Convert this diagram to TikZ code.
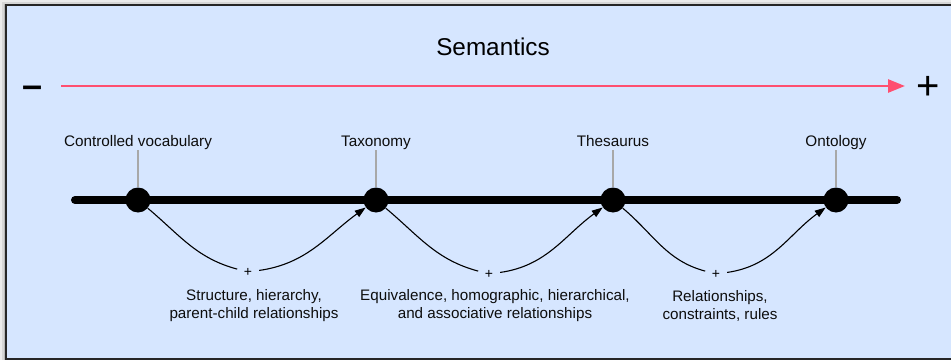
\documentclass[tikz,border=0pt]{standalone}
\usepackage{fontspec}
\setmainfont{Liberation Sans}
\usetikzlibrary{arrows.meta}
\definecolor{bgblue}{HTML}{D6E6FF}
\definecolor{redarrow}{HTML}{FF4F70}
\definecolor{tickgray}{HTML}{A8A8A8}
\begin{document}
\begin{tikzpicture}[x=1pt,y=1pt,
  lbl/.style={font=\fontsize{15.3}{17}\selectfont, text=black!95, inner sep=0pt, anchor=base},
  desc/.style={font=\fontsize{15.2}{18}\selectfont, align=center, text=black!95, inner sep=0pt},
  dot/.style={circle, fill=black, minimum size=25pt, inner sep=0pt},
  pl/.style={circle, minimum size=22pt, inner sep=0pt, font=\fontsize{14}{15}\selectfont},
  tick/.style={draw=tickgray, line width=1.6pt},
  curve/.style={draw=black, line width=1.1pt},
  arr/.style={curve, -{Triangle[length=11pt,width=7.5pt]}}]
\useasboundingbox (0,0) rectangle (951,360);
% shadow
\fill[black!8] (0,0) rectangle (951,360);
\fill[black!16] (2,0) rectangle (951,358);
\fill[black!28] (4,0) rectangle (951,356.5);
% frame
\fill[bgblue] (6,1) rectangle (960,355);
\draw[black!85, line width=1.5pt] (6,1) rectangle (960,355);
% title
\node[font=\fontsize{24.3}{27}\selectfont, inner sep=0pt] (title) at (493,313) {Semantics};
% semantic axis
\node[font=\bfseries\fontsize{36}{38}\selectfont, inner sep=0pt] (minus) at (33,268) {–};
\node[font=\fontsize{40}{42}\selectfont, inner sep=0pt] (plus) at (928,272) {+};
\coordinate (ra) at (61,274);
\coordinate (rb) at (905,274);
\draw[redarrow, line width=2.6pt, -{Triangle[length=17pt,width=13pt]}] (ra) -- (rb);
% main line
\coordinate (la) at (75,160);
\coordinate (lb) at (897,160);
\draw[line width=8pt, line cap=round] (la) -- (lb);
% dots
\node[dot] (d1) at (138,160) {};
\node[dot] (d2) at (376,160) {};
\node[dot] (d3) at (613,160) {};
\node[dot] (d4) at (836,160) {};
% labels
\node[lbl] (l1) at (138,214) {Controlled vocabulary};
\node[lbl] (l2) at (376,214) {Taxonomy};
\node[lbl] (l3) at (613,214) {Thesaurus};
\node[lbl] (l4) at (836,214) {Ontology};
\foreach \i in {1,2,3,4} {
  \coordinate (t\i) at ([yshift=-4pt]l\i.base);
  \draw[tick] (t\i) -- (d\i.north);
}
% pluses
\node[pl] (p1) at (248,88) {+};
\node[pl] (p2) at (489,86) {+};
\node[pl] (p3) at (716,86) {+};
% curves
\draw[curve] (d1) to[out=-40,in=165] (p1);
\draw[arr] (p1) to[out=8,in=-144] (d2);
\draw[curve] (d2) to[out=-40,in=165] (p2);
\draw[arr] (p2) to[out=8,in=-144] (d3);
\draw[curve] (d3) to[out=-40,in=165] (p3);
\draw[arr] (p3) to[out=8,in=-144] (d4);
% descriptions
\node[desc] (e1) at (254,54) {Structure, hierarchy,\\parent-child relationships};
\node[desc] (e2) at (495,54) {Equivalence, homographic, hierarchical,\\and associative relationships};
\node[desc] (e3) at (720,54) {Relationships,\\constraints, rules};
\end{tikzpicture}
\end{document}
